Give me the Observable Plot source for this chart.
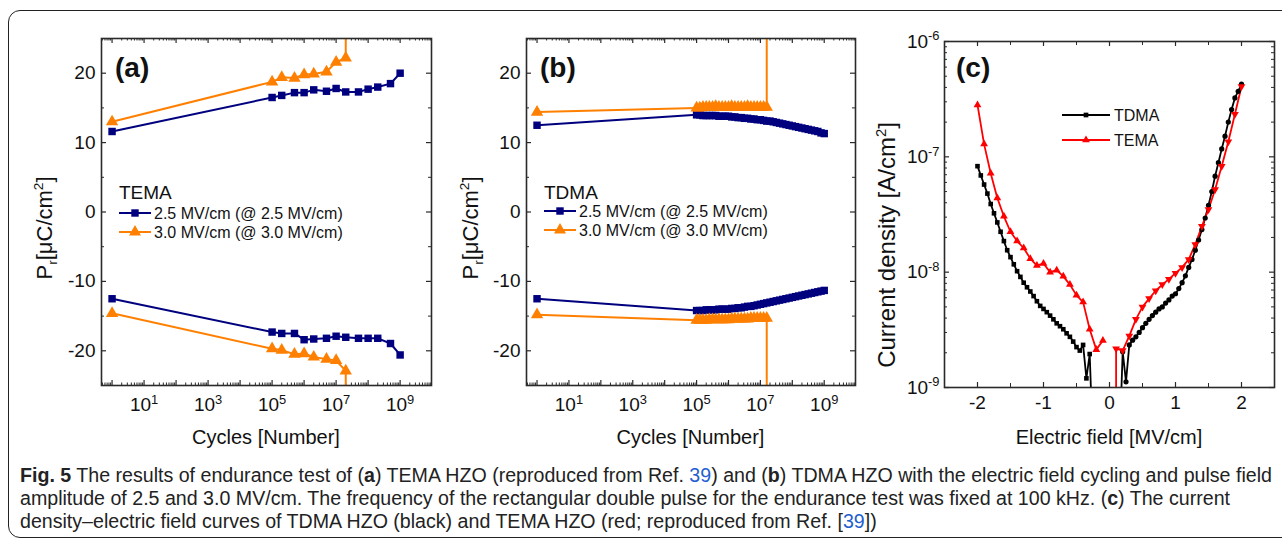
<!DOCTYPE html>
<html><head><meta charset="utf-8">
<script src="https://cdn.jsdelivr.net/npm/d3@7"></script>
<script src="https://cdn.jsdelivr.net/npm/@observablehq/plot@0.6"></script>
<style>
body{margin:0;background:#fff;}
#wrap{position:relative;width:1282px;height:546px;overflow:hidden;font-family:"Liberation Sans",Arial,sans-serif;background:#fff;}
#box{position:absolute;left:8px;top:10px;width:1300px;height:528px;border:1.5px solid #222;border-radius:12px;box-sizing:border-box;}
.panel{position:absolute;top:0;}
#caption{position:absolute;left:20px;top:464px;font-family:"Liberation Sans Narrow","Arial Narrow","Liberation Sans",sans-serif;font-size:20px;line-height:23px;color:#222;white-space:nowrap;transform-origin:0 0;}
#caption a{color:#1f5fd0;text-decoration:none}
.cl{display:block}
</style></head>
<body><div id="wrap"><div id="box"></div>
<div id="pa" class="panel" style="left:0px"></div>
<div id="pb" class="panel" style="left:440px"></div>
<div id="pc" class="panel" style="left:880px"></div>
<div id="caption">
<div class="cl"><span id="l1"><b>Fig. 5</b> The results of endurance test of (<b>a</b>) TEMA HZO (reproduced from Ref. <a>39</a>) and (<b>b</b>) TDMA HZO with the electric field cycling and pulse field</span></div>
<div class="cl">amplitude of 2.5 and 3.0 MV/cm. The frequency of the rectangular double pulse for the endurance test was fixed at 100 kHz. (<b>c</b>) The current</div>
<div class="cl">density–electric field curves of TDMA HZO (black) and TEMA HZO (red; reproduced from Ref. [<a>39</a>])</div>
</div>
</div>
<script>
// ---------- DATA ----------
// Panel (a): TEMA endurance
const aCycles25 = [1, 1e5, 2e5, 5e5, 1e6, 2e6, 5e6, 1e7, 2e7, 5e7, 1e8, 2e8, 5e8, 1e9];
const aPos25 = [11.6, 16.5, 16.8, 17.2, 17.2, 17.6, 17.4, 17.8, 17.3, 17.3, 17.7, 18.0, 18.5, 20.0];
const aNeg25 = [-12.5, -17.3, -17.5, -17.5, -18.4, -18.3, -18.2, -17.9, -18.05, -18.2, -18.2, -18.2, -18.95, -20.6];
const aCycles30 = [1, 1e5, 2e5, 5e5, 1e6, 2e6, 5e6, 1e7, 2e7, 2e7];
const aPos30 = [13.0, 18.75, 19.4, 19.3, 19.8, 19.9, 20.2, 21.6, 22.2, 60];
const aNeg30 = [-14.6, -19.7, -19.9, -20.5, -20.4, -20.9, -21.2, -21.4, -22.9, -60];

// Panel (b): TDMA endurance
const bCycles25 = [1,
  1e5,1.26e5,1.58e5,2e5,2.51e5,3.16e5,3.98e5,5.01e5,6.31e5,7.94e5,
  1e6,1.26e6,1.58e6,2e6,2.51e6,3.16e6,3.98e6,5.01e6,6.31e6,7.94e6,
  1e7,1.26e7,1.58e7,2e7,2.51e7,3.16e7,3.98e7,5.01e7,6.31e7,7.94e7,
  1e8,1.26e8,1.58e8,2e8,2.51e8,3.16e8,3.98e8,5.01e8,6.31e8,7.94e8,
  1e9];
const bPos25 = [12.5,
  14.0,14.0,13.9,13.9,13.9,13.9,13.9,13.8,13.8,13.8,
  13.8,13.7,13.7,13.6,13.6,13.5,13.5,13.4,13.4,13.3,
  13.3,13.2,13.1,13.1,13.0,12.9,12.8,12.7,12.6,12.5,
  12.4,12.3,12.2,12.1,12.0,11.9,11.8,11.7,11.6,11.4,
  11.3];
const bNeg25 = [-12.5,
  -14.2,-14.2,-14.2,-14.1,-14.1,-14.1,-14.1,-14.0,-14.0,-14.0,
  -14.0,-13.9,-13.9,-13.8,-13.8,-13.7,-13.6,-13.6,-13.5,-13.4,
  -13.3,-13.2,-13.1,-13.0,-12.9,-12.8,-12.7,-12.6,-12.5,-12.4,
  -12.3,-12.2,-12.1,-12.0,-11.9,-11.8,-11.7,-11.6,-11.5,-11.4,
  -11.3];
const bCycles30 = [1,
  1e5,1.26e5,1.58e5,2e5,2.51e5,3.16e5,3.98e5,5.01e5,6.31e5,7.94e5,
  1e6,1.26e6,1.58e6,2e6,2.51e6,3.16e6,3.98e6,5.01e6,6.31e6,7.94e6,
  1e7,1.26e7,1.58e7,1.58e7];
const bPos30 = [14.4,
  15.0,15.0,15.1,15.1,15.1,15.1,15.2,15.1,15.1,15.1,
  15.1,15.2,15.1,15.1,15.1,15.1,15.2,15.1,15.1,15.1,
  15.1,15.1,15.1,60];
const bNeg30 = [-14.8,
  -15.6,-15.6,-15.6,-15.6,-15.5,-15.5,-15.5,-15.5,-15.5,-15.5,
  -15.5,-15.4,-15.4,-15.4,-15.4,-15.4,-15.4,-15.3,-15.3,-15.3,
  -15.3,-15.3,-15.3,-60];

// Panel (c): J–E curves
const tdmaNegE = [-2.00,-1.95,-1.90,-1.85,-1.80,-1.75,-1.70,-1.65,-1.60,-1.55,-1.50,-1.45,-1.40,-1.35,-1.30,-1.25,-1.20,-1.15,-1.10,-1.05,-1.00,-0.95,-0.90,-0.85,-0.80,-0.75,-0.70,-0.65,-0.60,-0.55,-0.50,-0.45,-0.40,-0.35,-0.30,-0.25];
const tdmaNegJ = [8.3e-8,6.9e-8,5.75e-8,4.8e-8,3.9e-8,3.24e-8,2.7e-8,2.24e-8,1.86e-8,1.55e-8,1.35e-8,1.17e-8,1.02e-8,9.1e-9,8.1e-9,7.4e-9,6.8e-9,6.2e-9,5.6e-9,5.1e-9,4.8e-9,4.5e-9,4.2e-9,3.9e-9,3.6e-9,3.4e-9,3.2e-9,2.95e-9,2.75e-9,2.5e-9,2.24e-9,2.09e-9,2.34e-9,1.2e-9,1.95e-9,3e-10];
const tdmaPosE = [0.15,0.20,0.25,0.30,0.35,0.40,0.45,0.50,0.55,0.60,0.65,0.70,0.75,0.80,0.85,0.90,0.95,1.00,1.05,1.10,1.15,1.20,1.25,1.30,1.35,1.40,1.45,1.50,1.55,1.60,1.65,1.70,1.75,1.80,1.85,1.90,1.95,2.00];
const tdmaPosJ = [3e-10,2.04e-9,1.12e-9,2.34e-9,2.57e-9,2.75e-9,3.0e-9,3.3e-9,3.6e-9,3.9e-9,4.2e-9,4.5e-9,4.8e-9,5.0e-9,5.4e-9,5.75e-9,6.2e-9,6.5e-9,7.2e-9,8.1e-9,9.3e-9,1.1e-8,1.29e-8,1.55e-8,1.9e-8,2.34e-8,2.95e-8,3.8e-8,5.0e-8,6.8e-8,8.9e-8,1.17e-7,1.51e-7,2.0e-7,2.57e-7,3.24e-7,3.7e-7,4.27e-7];
const temaNegE = [-2.0,-1.9,-1.8,-1.7,-1.6,-1.5,-1.4,-1.3,-1.2,-1.1,-1.0,-0.9,-0.8,-0.7,-0.6,-0.5,-0.4,-0.3,-0.2,-0.1];
const temaNegJ = [2.82e-7,1.29e-7,7.2e-8,4.4e-8,3.05e-8,2.24e-8,1.86e-8,1.62e-8,1.31e-8,1.14e-8,1.19e-8,1.0e-8,1.04e-8,9.2e-9,7.8e-9,6.3e-9,5.5e-9,3.2e-9,2.13e-9,2.56e-9];
const temaPosE = [0.1,0.1,0.2,0.3,0.4,0.5,0.6,0.7,0.8,0.9,1.0,1.1,1.2,1.3,1.4,1.5,1.6,1.7,1.8,1.9,2.0];
const temaPosJ = [2.5e-10,2.17e-9,2.09e-9,2.8e-9,3.9e-9,5.0e-9,5.9e-9,6.9e-9,7.8e-9,8.7e-9,9.8e-9,1.10e-8,1.29e-8,1.74e-8,2.5e-8,3.5e-8,5.2e-8,8.3e-8,1.35e-7,2.34e-7,4.07e-7];

// Tick values
const cycleLabelTicks = [1e1, 1e3, 1e5, 1e7, 1e9];
const cycleDecadeTicks = [1e0,1e1,1e2,1e3,1e4,1e5,1e6,1e7,1e8,1e9];
const cycleMinorTicks = [0.5,0.6,0.7,0.8,0.9].concat(...[0,1,2,3,4,5,6,7,8,9].map(k => [2,3,4,5,6,7,8,9].map(m => +(m + "e" + k))));
const prLabelTicks = [-20, -10, 0, 10, 20];
const prMinorTicks = [-15, -5, 5, 15];
const fieldMajorTicks = [-2, -1, 0, 1, 2];
const fieldMinorTicks = [-1.5, -0.5, 0.5, 1.5];
const jMajorTicks = [1e-9, 1e-8, 1e-7, 1e-6];
const jMinorTicks = [].concat(...[-9,-8,-7].map(k => [2,3,4,5,6,7,8,9].map(m => +(m + "e" + k))));

// ---------- HELPERS ----------
const NAVY = "#00007f", ORANGE = "#ff8000", AX = "#2a2a2a";
const FONT = "Liberation Sans, Arial, sans-serif";
const rows = (xs, ys) => xs.map((x, i) => ({x, y: ys[i]}));

function supify(svg){
  d3.select(svg).selectAll("text").each(function(){
    const m = /^10\^(-?\d+)$/.exec(this.textContent);
    if(!m) return;
    const s = d3.select(this);
    s.text(null);
    s.append("tspan").text("10");
    s.append("tspan").attr("dy","-0.55em").attr("font-size","0.68em").text(m[1]);
  });
}
function rich(sel, parts){
  parts.forEach(p => {
    const t = sel.append("tspan").text(p.t);
    if(p.sup){ t.attr("dy", -9).attr("font-size", "0.62em"); }
    if(p.sub){ t.attr("dy", 5).attr("font-size", "0.62em"); }
    if(p.back){ t.attr("dy", p.back); }
  });
}
function sym(g, type, size, x, y, color, rot){
  g.append("path").attr("d", d3.symbol(type, size)()).attr("fill", color)
   .attr("transform", `translate(${x},${y})` + (rot ? ` rotate(${rot})` : ""));
}

function endurance(el, cfg){
  const W = cfg.width, H = 450, mt = 38, mb = 65;
  const fh = H - mt - mb, fw = W - cfg.ml - cfg.mr;
  const xDom = [Math.pow(10, -0.33), Math.pow(10, 9.98)];
  const mk = (data, color, symbol) => [
    Plot.line(data, {x: "x", y: "y", stroke: color, strokeWidth: 2, clip: true}),
    Plot.dot(data, {x: "x", y: "y", fill: color, symbol, r: symbol === "square" ? 4.2 : 4.6, clip: true})
  ];
  const svg = Plot.plot({
    width: W, height: H, marginLeft: cfg.ml, marginRight: cfg.mr, marginTop: mt, marginBottom: mb,
    style: {fontFamily: FONT, background: "transparent", overflow: "visible", color: "#111"},
    x: {type: "log", domain: xDom, axis: null},
    y: {domain: [-25, 25], axis: null},
    marks: [
      Plot.tickX(cycleMinorTicks, {x: d => d, insetTop: fh - 2.5, stroke: AX}),
      Plot.tickX(cycleMinorTicks, {x: d => d, insetBottom: fh - 2.5, stroke: AX}),
      Plot.tickX(cycleDecadeTicks, {x: d => d, insetTop: fh - 5, stroke: AX, strokeWidth: 1.2}),
      Plot.tickX(cycleDecadeTicks, {x: d => d, insetBottom: fh - 5, stroke: AX, strokeWidth: 1.2}),
      Plot.tickY(prLabelTicks, {y: d => d, insetRight: fw - 5, stroke: AX, strokeWidth: 1.2}),
      Plot.tickY(prLabelTicks, {y: d => d, insetLeft: fw - 5, stroke: AX, strokeWidth: 1.2}),
      Plot.tickY(prMinorTicks, {y: d => d, insetRight: fw - 3, stroke: AX}),
      Plot.tickY(prMinorTicks, {y: d => d, insetLeft: fw - 3, stroke: AX}),
      Plot.axisX(cycleLabelTicks, {tickSize: 0, tickPadding: 12, fontSize: 19, label: null,
        tickFormat: d => "10^" + Math.round(Math.log10(d))}),
      Plot.axisY(prLabelTicks, {tickSize: 0, tickPadding: 6, fontSize: 19, label: null,
        tickFormat: d => String(d)}),
      ...mk(rows(cfg.c25, cfg.pos25), NAVY, "square"),
      ...mk(rows(cfg.c25, cfg.neg25), NAVY, "square"),
      ...mk(rows(cfg.c30, cfg.pos30), ORANGE, "triangle"),
      ...mk(rows(cfg.c30, cfg.neg30), ORANGE, "triangle"),
      Plot.frame({stroke: AX, strokeWidth: 1.6})
    ]
  });
  supify(svg);
  const g = d3.select(svg).append("g").attr("font-family", FONT).attr("fill", "#111").attr("text-anchor", "start");
  g.append("text").attr("x", cfg.tagX).attr("y", 77).attr("font-size", 28).attr("font-weight", "bold").text(cfg.tag);
  g.append("text").attr("x", cfg.legX).attr("y", 199).attr("font-size", 19).text(cfg.legTitle);
  const rowsY = cfg.legRows;
  const lx0 = cfg.legX, lx1 = cfg.legX + 32;
  g.append("line").attr("x1", lx0).attr("x2", lx1).attr("y1", rowsY[0]).attr("y2", rowsY[0]).attr("stroke", NAVY).attr("stroke-width", 2);
  sym(g, d3.symbolSquare, 55, (lx0 + lx1) / 2, rowsY[0], NAVY);
  g.append("text").attr("x", lx1 + 3).attr("y", rowsY[0]).attr("dy", "0.36em").attr("font-size", 16).text("2.5 MV/cm (@ 2.5 MV/cm)");
  g.append("line").attr("x1", lx0).attr("x2", lx1).attr("y1", rowsY[1]).attr("y2", rowsY[1]).attr("stroke", ORANGE).attr("stroke-width", 2);
  sym(g, d3.symbolTriangle, 62, (lx0 + lx1) / 2, rowsY[1], ORANGE);
  g.append("text").attr("x", lx1 + 3).attr("y", rowsY[1]).attr("dy", "0.36em").attr("font-size", 16).text("3.0 MV/cm (@ 3.0 MV/cm)");
  g.append("text").attr("x", cfg.ml + fw / 2).attr("y", 444).attr("text-anchor", "middle").attr("font-size", 20).text("Cycles [Number]");
  const yl = g.append("text").attr("transform", `translate(${cfg.ylabX},228) rotate(-90)`).attr("text-anchor", "middle").attr("dy", "0.35em").attr("font-size", 22);
  rich(yl, [{t: "P"}, {t: "r", sub: true}, {t: "[μC/cm", back: -5}, {t: "2", sup: true}, {t: "]", back: 9}]);
  el.appendChild(svg);
}

endurance(document.getElementById("pa"), {
  width: 440, ml: 101, mr: 9, tag: "(a)", tagX: 115, legX: 119, legRows: [213, 232], legTitle: "TEMA", ylabX: 44,
  c25: aCycles25, pos25: aPos25, neg25: aNeg25, c30: aCycles30, pos30: aPos30, neg30: aNeg30
});
endurance(document.getElementById("pb"), {
  width: 440, ml: 86, mr: 25, tag: "(b)", tagX: 100, legX: 104, legRows: [211, 230], legTitle: "TDMA", ylabX: 30,
  c25: bCycles25, pos25: bPos25, neg25: bNeg25, c30: bCycles30, pos30: bPos30, neg30: bNeg30
});

// Panel (c)
(function(){
  const W = 402, H = 450, ml = 64, mr = 8, mt = 41, mb = 63;
  const fh = H - mt - mb, fw = W - ml - mr;
  const ln = (data, color) => Plot.line(data, {x: "x", y: "y", stroke: color, strokeWidth: 1.8, clip: true});
  const tdmaN = rows(tdmaNegE, tdmaNegJ), tdmaP = rows(tdmaPosE, tdmaPosJ);
  const temaN = rows(temaNegE, temaNegJ), temaP = rows(temaPosE, temaPosJ);
  const svg = Plot.plot({
    width: W, height: H, marginLeft: ml, marginRight: mr, marginTop: mt, marginBottom: mb,
    style: {fontFamily: FONT, background: "transparent", overflow: "visible", color: "#111"},
    x: {domain: [-2.5, 2.5], axis: null},
    y: {type: "log", domain: [1e-9, 1e-6], axis: null},
    marks: [
      Plot.tickX(fieldMajorTicks, {x: d => d, insetTop: fh - 5, stroke: AX, strokeWidth: 1.2}),
      Plot.tickX(fieldMajorTicks, {x: d => d, insetBottom: fh - 5, stroke: AX, strokeWidth: 1.2}),
      Plot.tickX(fieldMinorTicks, {x: d => d, insetTop: fh - 4, stroke: AX}),
      Plot.tickX(fieldMinorTicks, {x: d => d, insetBottom: fh - 4, stroke: AX}),
      Plot.tickY(jMajorTicks, {y: d => d, insetRight: fw - 5, stroke: AX, strokeWidth: 1.2}),
      Plot.tickY(jMajorTicks, {y: d => d, insetLeft: fw - 5, stroke: AX, strokeWidth: 1.2}),
      Plot.tickY(jMinorTicks, {y: d => d, insetRight: fw - 3, stroke: AX}),
      Plot.tickY(jMinorTicks, {y: d => d, insetLeft: fw - 3, stroke: AX}),
      Plot.axisX(fieldMajorTicks, {tickSize: 0, tickPadding: 8, fontSize: 19, label: null, tickFormat: d => String(d)}),
      Plot.axisY(jMajorTicks, {tickSize: 0, tickPadding: 5, fontSize: 19, label: null,
        tickFormat: d => "10^" + Math.round(Math.log10(d))}),
      ln(tdmaN, "#000"), ln(tdmaP, "#000"), ln(temaN, "#ff0000"), ln(temaP, "#ff0000"),
      Plot.dot(tdmaN, {x: "x", y: "y", symbol: "square", r: 2.6, fill: "#000", clip: true}),
      Plot.dot(tdmaP, {x: "x", y: "y", symbol: "circle", r: 2.6, fill: "#000", clip: true}),
      Plot.dot(temaN, {x: "x", y: "y", symbol: "triangle", r: 2.9, fill: "#ff0000", clip: true}),
      Plot.dot(temaP, {x: "x", y: "y", symbol: "triangle", rotate: 180, r: 2.9, fill: "#ff0000", clip: true}),
      Plot.frame({stroke: AX, strokeWidth: 1.6})
    ]
  });
  supify(svg);
  const g = d3.select(svg).append("g").attr("font-family", FONT).attr("fill", "#111").attr("text-anchor", "start");
  g.append("text").attr("x", 76).attr("y", 77).attr("font-size", 28).attr("font-weight", "bold").text("(c)");
  g.append("line").attr("x1", 182).attr("x2", 230).attr("y1", 115).attr("y2", 115).attr("stroke", "#000").attr("stroke-width", 2);
  sym(g, d3.symbolSquare, 22, 206, 115, "#000");
  g.append("text").attr("x", 234).attr("y", 115).attr("dy", "0.36em").attr("font-size", 16).text("TDMA");
  g.append("line").attr("x1", 182).attr("x2", 230).attr("y1", 140).attr("y2", 140).attr("stroke", "#ff0000").attr("stroke-width", 2);
  sym(g, d3.symbolTriangle, 26, 206, 140, "#ff0000");
  g.append("text").attr("x", 234).attr("y", 140).attr("dy", "0.36em").attr("font-size", 16).text("TEMA");
  g.append("text").attr("x", ml + fw / 2).attr("y", 444).attr("text-anchor", "middle").attr("font-size", 20).text("Electric field [MV/cm]");
  const yl = g.append("text").attr("transform", `translate(7,245) rotate(-90)`).attr("text-anchor", "middle").attr("dy", "0.35em").attr("font-size", 24);
  rich(yl, [{t: "Current density [A/cm"}, {t: "2", sup: true}, {t: "]", back: 9}]);
  document.getElementById("pc").appendChild(svg);
})();

// Condense the caption horizontally so line 1 spans its reference width
(function(){
  const cap = document.getElementById("caption");
  const w = document.getElementById("l1").getBoundingClientRect().width;
  const s = 1252 / w;
  cap.style.transform = `scaleX(${s.toFixed(4)})`;
})();
</script>
</body></html>
